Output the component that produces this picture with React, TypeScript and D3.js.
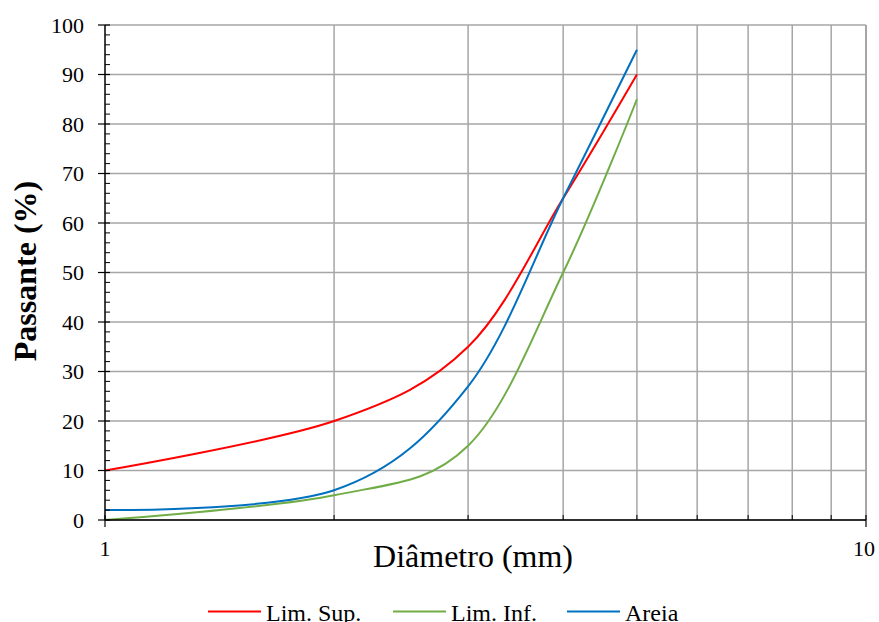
import React from "react";
import * as d3 from "d3";

const diameters = [1, 2, 3, 4, 5];
const limSup = [10, 20, 35, 65, 90];
const limInf = [0, 5, 15, 50, 85];
const areia = [2, 6, 27, 65, 95];
const yTicks = [0, 10, 20, 30, 40, 50, 60, 70, 80, 90, 100];
const xGrid = [2, 3, 4, 5, 6, 7, 8, 9];
const xLabels = [1, 10];

const series = [
  { name: "Lim. Sup.", values: limSup, color: "#ff0000" },
  { name: "Lim. Inf.", values: limInf, color: "#70ad47" },
  { name: "Areia", values: areia, color: "#0070c0" },
];

const W = 879, H = 622;
const L = 105, R = 866, T = 25, B = 520;
const FONT = "Liberation Serif";

export default function App() {
  const x = d3.scaleLog().domain([1, 10]).range([L, R]);
  const y = d3.scaleLinear().domain([0, 100]).range([B, T]);
  const line = d3
    .line<[number, number]>()
    .x((d) => x(d[0]))
    .y((d) => y(d[1]))
    .curve(d3.curveCatmullRom.alpha(0));
  const minor = d3.range(0, 100, 2).filter((v) => v % 10 !== 0);
  const legendX = [208, 393, 567];
  const tStyle = { fontFamily: FONT };
  return (
    <svg width={W} height={H} style={{ position: "absolute", left: 0, top: 0 }}>
      <rect width={W} height={H} fill="#fff" />
      {yTicks.map((t) => (
        <line key={"gy" + t} x1={L} x2={R} y1={y(t)} y2={y(t)} stroke="#a6a6a6" strokeWidth={1.5} />
      ))}
      {xGrid.map((t) => (
        <line key={"gx" + t} x1={x(t)} x2={x(t)} y1={T} y2={B} stroke="#a6a6a6" strokeWidth={1.5} />
      ))}
      <line x1={R} x2={R} y1={T} y2={B} stroke="#a6a6a6" strokeWidth={2} />
      {series.map((s) => (
        <path
          key={s.name}
          d={line(diameters.map((d, i) => [d, s.values[i]] as [number, number])) || ""}
          fill="none"
          stroke={s.color}
          strokeWidth={2}
        />
      ))}
      <line x1={L} x2={L} y1={T} y2={B} stroke="#000" strokeWidth={1.5} />
      <line x1={L} x2={R} y1={B} y2={B} stroke="#000" strokeWidth={1.5} />
      {yTicks.map((t) => (
        <g key={"yt" + t}>
          <line x1={L - 7} x2={L + 5} y1={y(t)} y2={y(t)} stroke="#000" strokeWidth={1.2} />
          <text x={84} y={y(t)} dy="0.35em" textAnchor="end" fontSize={22} style={tStyle}>
            {t}
          </text>
        </g>
      ))}
      {minor.map((t) => (
        <line key={"ym" + t} x1={L} x2={L + 5} y1={y(t)} y2={y(t)} stroke="#000" strokeWidth={1} />
      ))}
      {xGrid.map((t) => (
        <line key={"xm" + t} x1={x(t)} x2={x(t)} y1={B} y2={B - 5} stroke="#000" strokeWidth={1} />
      ))}
      {xLabels.map((t) => (
        <g key={"xl" + t}>
          <line x1={x(t)} x2={x(t)} y1={B - 5} y2={B + 7} stroke="#000" strokeWidth={1.2} />
          <text x={x(t) - (t === 10 ? 2 : 0)} y={556} textAnchor="middle" fontSize={22} style={tStyle}>
            {t}
          </text>
        </g>
      ))}
      <text x={473} y={567} textAnchor="middle" fontSize={32} style={tStyle}>
        Diâmetro (mm)
      </text>
      <text
        transform={`translate(36, 271) rotate(-90)`}
        textAnchor="middle"
        fontSize={32}
        fontWeight="bold"
        style={tStyle}
      >
        Passante (%)
      </text>
      {series.map((s, i) => (
        <g key={"lg" + s.name}>
          <line x1={legendX[i]} x2={legendX[i] + 53} y1={611.5} y2={611.5} stroke={s.color} strokeWidth={2} />
          <text x={legendX[i] + 58} y={621} fontSize={24} style={tStyle}>
            {s.name}
          </text>
        </g>
      ))}
    </svg>
  );
}
